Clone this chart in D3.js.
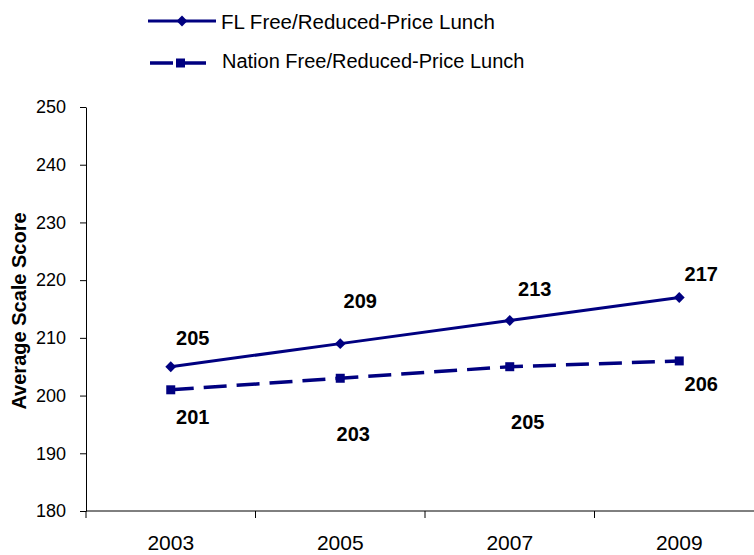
<!DOCTYPE html>
<html>
<head>
<meta charset="utf-8">
<script src="https://cdn.jsdelivr.net/npm/d3@7"></script>
<style>
  body { margin: 0; background: #fff; }
  text { font-family: "Liberation Sans", Arial, sans-serif; }
</style>
</head>
<body>
<div id="chart"></div>
<script>

// data
var years = ["2003", "2005", "2007", "2009"];
var flScores = [205, 209, 213, 217];
var nationScores = [201, 203, 205, 206];
var yTicks = [180, 190, 200, 210, 220, 230, 240, 250];
var seriesNames = ["FL Free/Reduced-Price Lunch", "Nation Free/Reduced-Price Lunch"];

// label nudges (px) for the data labels, placed by hand like the original
var flLabelDx = [22, 20, 25, 22];
var flLabelDy = [-22, -36, -25, -16];
var natLabelDx = [22, 13, 18, 22];
var natLabelDy = [34, 63, 62, 30];

var navy = "#000080";

var svg = d3.select("#chart")
    .append("svg")
    .attr("width", 754)
    .attr("height", 555);

var left = 86, bottom = 511;

// X axis
var x = d3.scaleBand()
    .domain(years)
    .range([left, left + 4 * 169.5]);

// Y axis
var y = d3.scaleLinear()
    .domain([180, 250])
    .range([bottom, 107]);

var xAxis = svg.append("g")
    .attr("transform", "translate(0," + bottom + ")")
    .call(d3.axisBottom(x).tickSize(0));
xAxis.select(".domain").attr("stroke", "#000").attr("d", "M" + left + ",0H754");
xAxis.selectAll("text")
    .attr("font-size", 21)
    .attr("dy", null)
    .attr("y", 39)
    .attr("fill", "#000");

// tick marks sit on band edges, not centers
svg.append("g")
    .selectAll("line")
    .data(years)
    .enter()
    .append("line")
    .attr("x1", function(d) { return x(d); })
    .attr("x2", function(d) { return x(d); })
    .attr("y1", bottom)
    .attr("y2", bottom + 7)
    .attr("stroke", "#000");

var yAxis = svg.append("g")
    .attr("transform", "translate(" + left + ",0)")
    .call(d3.axisLeft(y).tickValues(yTicks).tickSize(6).tickPadding(14).tickSizeOuter(0));
yAxis.selectAll("text")
    .attr("font-size", 18)
    .attr("fill", "#000");
yAxis.selectAll("line, path").attr("stroke", "#000");

// axis title
svg.append("text")
    .attr("transform", "translate(26,311)rotate(-90)")
    .attr("text-anchor", "middle")
    .attr("font-size", 20)
    .attr("font-weight", "bold")
    .text("Average Scale Score");

function cx(d, i) { return x(years[i]) + x.bandwidth() / 2; }

var line = d3.line()
    .x(cx)
    .y(function(d) { return y(d); });

// FL series
svg.append("path")
    .datum(flScores)
    .attr("d", line)
    .attr("fill", "none")
    .attr("stroke", navy)
    .attr("stroke-width", 3);

svg.selectAll("fldot")
    .data(flScores)
    .enter()
    .append("path")
    .attr("d", d3.symbol(d3.symbolDiamond2, 75))
    .attr("transform", function(d, i) { return "translate(" + cx(d, i) + "," + y(d) + ")"; })
    .attr("fill", navy);

// Nation series
svg.append("path")
    .datum(nationScores)
    .attr("d", line)
    .attr("fill", "none")
    .attr("stroke", navy)
    .attr("stroke-width", 3.5)
    .attr("stroke-dasharray", "23,10");

svg.selectAll("natdot")
    .data(nationScores)
    .enter()
    .append("rect")
    .attr("x", function(d, i) { return cx(d, i) - 4.5; })
    .attr("y", function(d) { return y(d) - 4.5; })
    .attr("width", 9)
    .attr("height", 9)
    .attr("fill", navy);

// data labels
svg.selectAll("fllabel")
    .data(flScores)
    .enter()
    .append("text")
    .attr("x", function(d, i) { return cx(d, i) + flLabelDx[i]; })
    .attr("y", function(d, i) { return y(d) + flLabelDy[i]; })
    .attr("text-anchor", "middle")
    .attr("font-size", 20)
    .attr("font-weight", "bold")
    .text(function(d) { return d; });

svg.selectAll("natlabel")
    .data(nationScores)
    .enter()
    .append("text")
    .attr("x", function(d, i) { return cx(d, i) + natLabelDx[i]; })
    .attr("y", function(d, i) { return y(d) + natLabelDy[i]; })
    .attr("text-anchor", "middle")
    .attr("font-size", 20)
    .attr("font-weight", "bold")
    .text(function(d) { return d; });

// legend
var legend = svg.append("g");

legend.append("line")
    .attr("x1", 148).attr("x2", 216)
    .attr("y1", 21).attr("y2", 21)
    .attr("stroke", navy).attr("stroke-width", 3);
legend.append("path")
    .attr("d", d3.symbol(d3.symbolDiamond2, 75))
    .attr("transform", "translate(182,21)")
    .attr("fill", navy);
legend.append("text")
    .attr("x", 221).attr("y", 29)
    .attr("font-size", 20.5)
    .text(seriesNames[0]);

legend.append("line")
    .attr("x1", 150).attr("x2", 209)
    .attr("y1", 63).attr("y2", 63)
    .attr("stroke", navy).attr("stroke-width", 3.5)
    .attr("stroke-dasharray", "23,10");
legend.append("rect")
    .attr("x", 176).attr("y", 58.5)
    .attr("width", 9).attr("height", 9)
    .attr("fill", navy);
legend.append("text")
    .attr("x", 222).attr("y", 68)
    .attr("font-size", 20)
    .text(seriesNames[1]);

</script>
</body>
</html>
